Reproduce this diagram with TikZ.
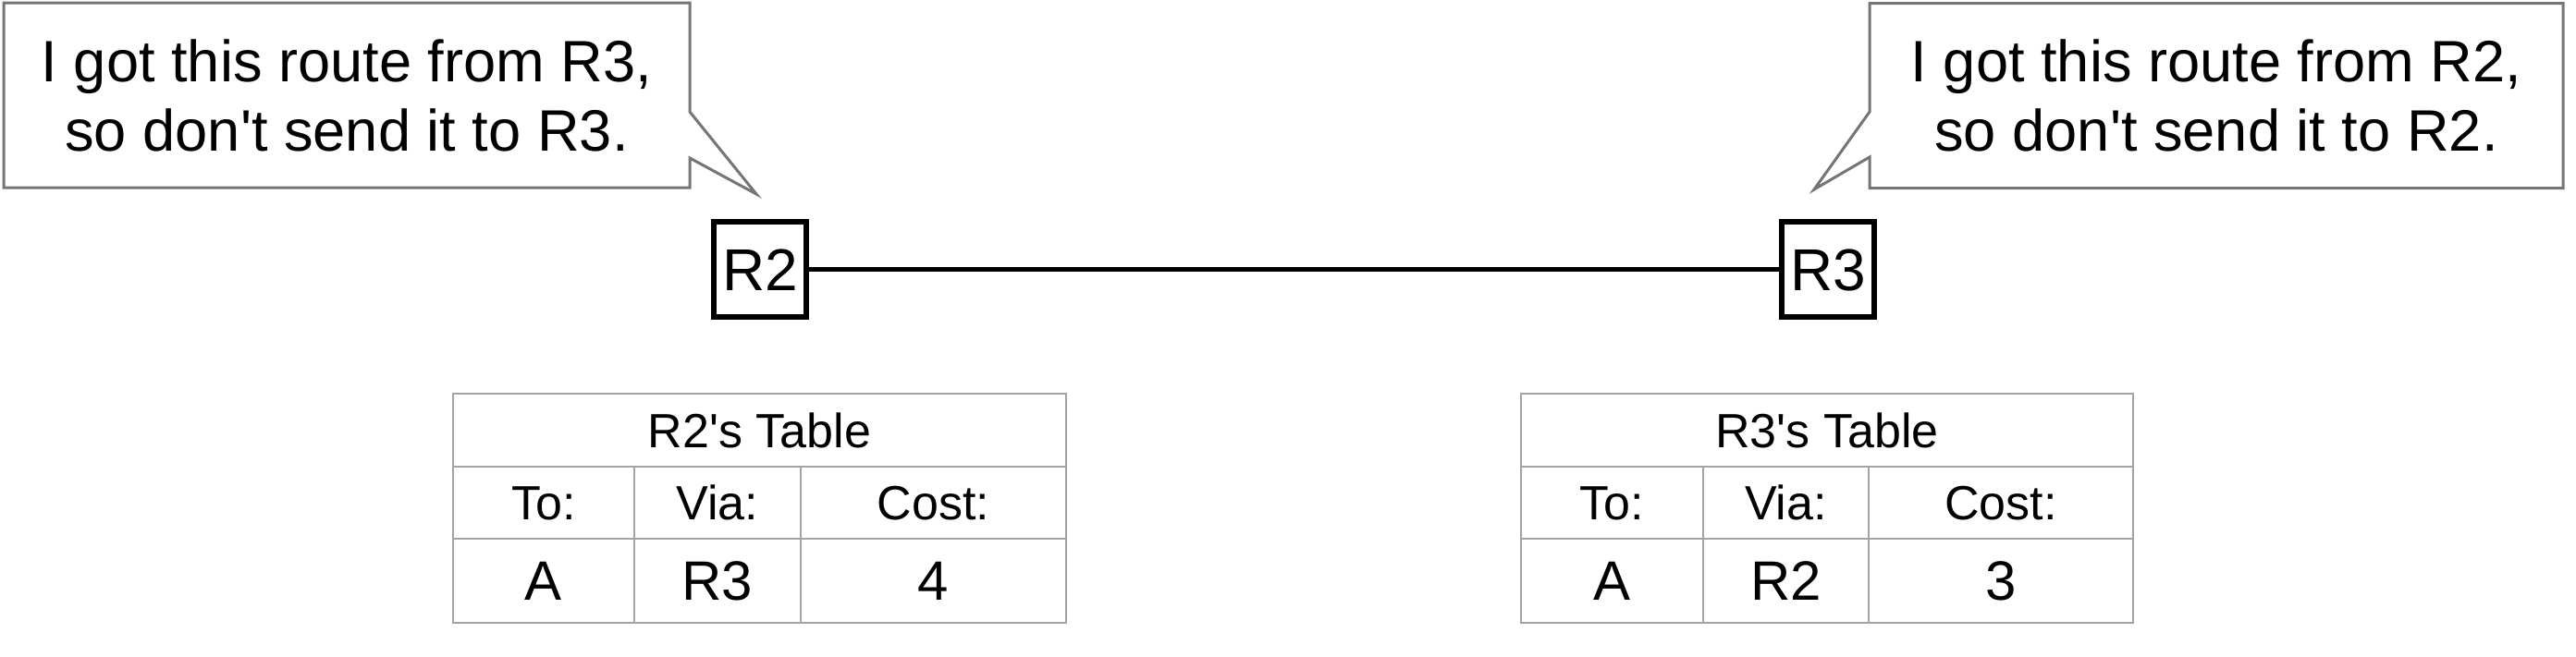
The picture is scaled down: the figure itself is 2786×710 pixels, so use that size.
\documentclass[tikz,border=0pt]{standalone}
\usepackage{fontspec}
\setmainfont{Liberation Sans}
\usetikzlibrary{calc}
\definecolor{calgray}{HTML}{757575}
\definecolor{tabgray}{HTML}{A3A3A3}
\begin{document}
\begin{tikzpicture}[x=0.25pt,y=-0.25pt,
  callout/.style={align=center, font=\fontsize{15.8}{18.75}\selectfont, inner sep=0pt, outer sep=0pt, minimum height=50pt},
  calloutline/.style={draw=calgray, line width=0.75pt, line join=miter},
  router/.style={draw=black, line width=1.5pt, minimum width=25pt, minimum height=25.75pt, inner sep=0pt, outer sep=0pt, font=\fontsize{16}{19}\selectfont, text height=11.45pt, text depth=0pt},
  link/.style={draw=black, line width=1.25pt},
  cell/.style={draw=tabgray, line width=0.7pt, inner sep=0pt, outer sep=0pt},
  headcell/.style={cell, font=\fontsize{13}{15}\selectfont, text height=9.3pt, text depth=0pt},
  datacell/.style={cell, font=\fontsize{15}{18}\selectfont, text height=10.74pt, text depth=0pt}
]
\useasboundingbox (0,0) rectangle (2786,710);

% callouts
\node[callout, minimum width=185.5pt] (c1) at (375,103) {I got this route from R3,\\so don\textquotesingle t send it to R3.};
\coordinate (t1) at (818,210);
\draw[calloutline] (c1.north west) -- (c1.north east) -- ($(c1.east)+(0,18)$) -- (t1) -- ($(c1.east)+(0,68)$) -- (c1.south east) -- (c1.south west) -- cycle;

\node[callout, minimum width=187.5pt] (c2) at (2397,103.5) {I got this route from R2,\\so don\textquotesingle t send it to R2.};
\coordinate (t2) at (1962,205);
\draw[calloutline] (c2.north east) -- (c2.north west) -- ($(c2.west)+(0,17.5)$) -- (t2) -- ($(c2.west)+(0,66.5)$) -- (c2.south west) -- (c2.south east) -- cycle;

% routers
\node[router] (r2) at (822,291.5) {R2};
\node[router] (r3) at (1977,291.5) {R3};
\draw[link] (r2) -- (r3);

% R2's table
\node[headcell, minimum width=165.75pt, minimum height=19.75pt] (a0) at (821.5,465.5) {R2\textquotesingle s Table};
\node[headcell, minimum width=49pt, minimum height=19.5pt] (a1) at (588,544) {To:};
\node[headcell, minimum width=45pt, minimum height=19.5pt] (a2) at (776,544) {Via:};
\node[headcell, minimum width=71.75pt, minimum height=19.5pt] (a3) at (1009.5,544) {Cost:};
\node[datacell, minimum width=49pt, minimum height=22.75pt] (a4) at (588,628.5) {A};
\node[datacell, minimum width=45pt, minimum height=22.75pt] (a5) at (776,628.5) {R3};
\node[datacell, minimum width=71.75pt, minimum height=22.75pt] (a6) at (1009.5,628.5) {4};

% R3's table
\node[headcell, minimum width=165.5pt, minimum height=19.75pt] (b0) at (1976,465.5) {R3\textquotesingle s Table};
\node[headcell, minimum width=49.25pt, minimum height=19.5pt] (b1) at (1743.5,544) {To:};
\node[headcell, minimum width=44.75pt, minimum height=19.5pt] (b2) at (1931.5,544) {Via:};
\node[headcell, minimum width=71.5pt, minimum height=19.5pt] (b3) at (2164,544) {Cost:};
\node[datacell, minimum width=49.25pt, minimum height=22.75pt] (b4) at (1743.5,628.5) {A};
\node[datacell, minimum width=44.75pt, minimum height=22.75pt] (b5) at (1931.5,628.5) {R2};
\node[datacell, minimum width=71.5pt, minimum height=22.75pt] (b6) at (2164,628.5) {3};
\end{tikzpicture}
\end{document}
